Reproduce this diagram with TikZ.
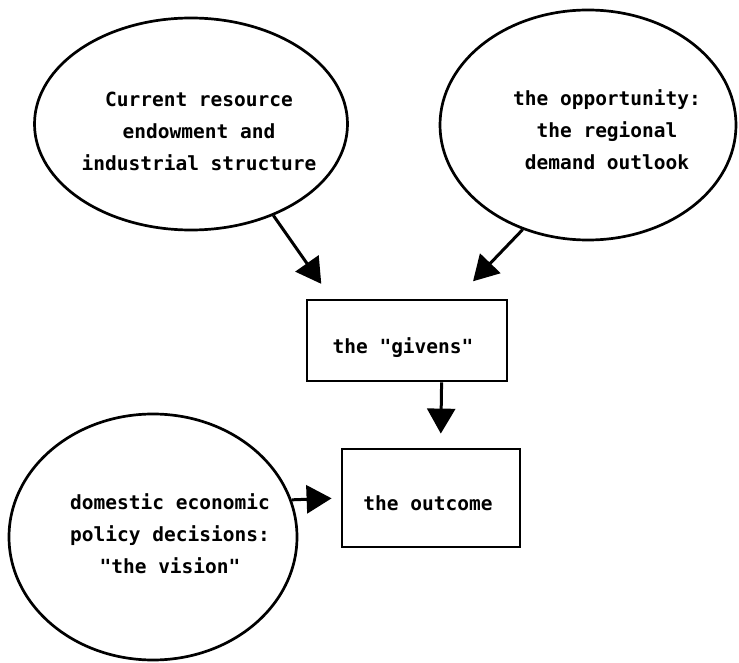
\documentclass[tikz,border=0pt]{standalone}
\usepackage{fontspec}
\setmonofont{DejaVu Sans Mono}
\usetikzlibrary{shapes.geometric,arrows.meta,calc}
\begin{document}
\begin{tikzpicture}[x=1pt,y=-1pt,
  blob/.style={draw,ellipse,line width=2.7pt,inner sep=0pt},
  txt/.style={font=\ttfamily\bfseries\fontsize{19.5}{32}\selectfont,align=center,inner sep=0pt},
  boxnode/.style={draw,line width=2.8pt,inner sep=0pt},
  arr/.style={line width=3pt,-{Triangle[length=25pt,width=28pt]}}]
\useasboundingbox (0,0) rectangle (739,663);
% bubbles
\node[blob,minimum width=313pt,minimum height=212pt] (e1) at (191,124) {};
\node[txt] (t1) at (199,131) {Current resource\\ endowment and\\industrial structure};
\node[blob,minimum width=296pt,minimum height=230pt] (e2) at (588,125) {};
\node[txt] (t2) at (607,130) {the opportunity:\\the regional\\demand outlook};
\node[blob,minimum width=288pt,minimum height=246pt] (e3) at (153,537) {};
\node[txt] (t3) at (170,534) {domestic economic\\policy decisions:\\"the vision"};
% boxes
\node[boxnode,minimum width=200pt,minimum height=81pt] (givens) at (407,340.5) {};
\node[txt] (tg) at (403,348) {the "givens"};
\node[boxnode,minimum width=178pt,minimum height=98pt] (outcome) at (431,498) {};
\node[txt] (to) at (428,503) {the outcome};
% anchor points
\coordinate (g1) at ($(givens.north west)+(26,0)$);
\coordinate (g2) at ($(givens.north east)+(-52,0)$);
\coordinate (g3) at ($(givens.south west)+(136,0)$);
\coordinate (o3) at ($(outcome.north west)+(100,0)$);
% connectors
\draw[arr,shorten >=18pt] (e1.-48) -- (g1);
\draw[arr,shorten >=24pt] (e2.238.7) -- (g2);
\draw[arr,shorten >=14pt] (g3) -- (o3);
\draw[arr,shorten >=9pt] (e3.15.6) -- (outcome.west);
\end{tikzpicture}
\end{document}
